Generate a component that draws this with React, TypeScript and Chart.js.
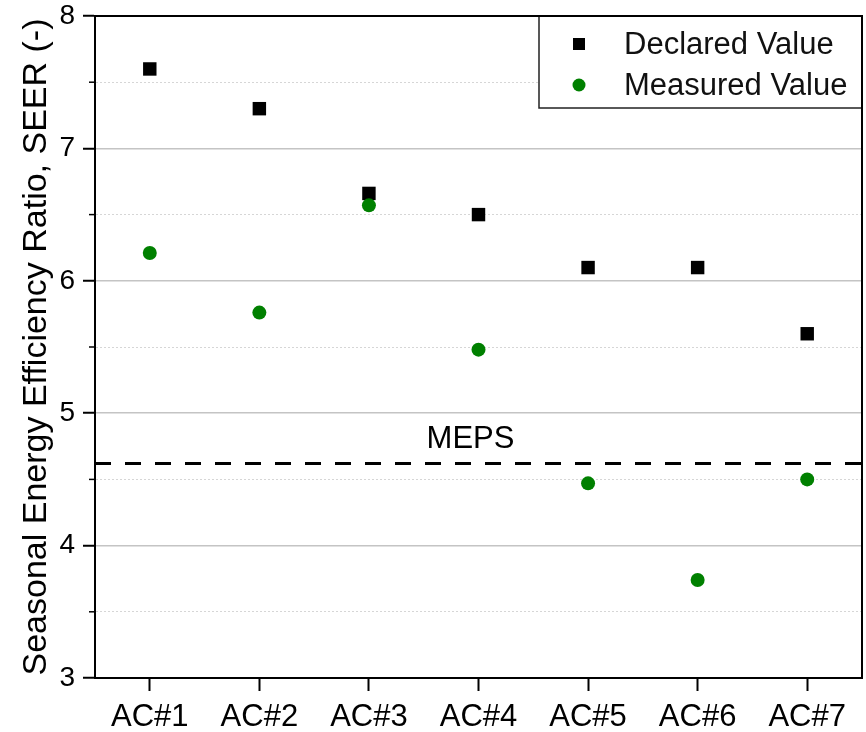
import React, { useEffect, useRef } from 'react';
import { Chart, registerables } from 'chart.js';

Chart.register(...registerables);

const categories = ['AC#1', 'AC#2', 'AC#3', 'AC#4', 'AC#5', 'AC#6', 'AC#7'];
const declaredValues = [7.6, 7.3, 6.66, 6.5, 6.1, 6.1, 5.6];
const measuredValues = [6.21, 5.76, 6.57, 5.48, 4.47, 3.74, 4.5];
const mepsValue = 4.62;
const seriesLabels = ['Declared Value', 'Measured Value'];
const mepsLabel = 'MEPS';
const yTitle = 'Seasonal Energy Efficiency Ratio, SEER (-)';
const yMin = 3;
const yMax = 8;
const yStep = 0.5;

const FONT = "'Liberation Sans', Arial, Helvetica, sans-serif";
const GREEN = '#008000';

const isMajor = (v: number) => Math.abs(v - Math.round(v)) < 1e-9;

const decorPlugin = {
  id: 'decor',
  afterDatasetsDraw(chart: any) {
    const { ctx, chartArea } = chart;
    const xs = chart.scales.x;
    const ys = chart.scales.y;
    ctx.save();
    ctx.strokeStyle = '#000';
    ctx.lineWidth = 1.5;
    ys.ticks.forEach((t: any) => {
      if (!isMajor(t.value)) {
        const py = ys.getPixelForValue(t.value);
        ctx.beginPath();
        ctx.moveTo(chartArea.left - 6, py);
        ctx.lineTo(chartArea.left, py);
        ctx.stroke();
      }
    });
    ctx.fillStyle = '#000';
    ctx.font = `31px ${FONT}`;
    ctx.textAlign = 'center';
    ctx.textBaseline = 'middle';
    ctx.fillText(mepsLabel, xs.getPixelForValue(4) - 8, ys.getPixelForValue(mepsValue) - 24);
    ctx.restore();
  },
  afterDraw(chart: any) {
    const { ctx, chartArea } = chart;
    const w = 323;
    const h = 92;
    const left = chartArea.right - w;
    const top = chartArea.top;
    ctx.save();
    ctx.fillStyle = '#fff';
    ctx.fillRect(left, top, w, h);
    ctx.strokeStyle = '#222';
    ctx.lineWidth = 1.5;
    ctx.strokeRect(left, top, w, h);
    ctx.strokeStyle = '#000';
    ctx.lineWidth = 2;
    ctx.beginPath();
    ctx.moveTo(chartArea.left, chartArea.top);
    ctx.lineTo(chartArea.right, chartArea.top);
    ctx.lineTo(chartArea.right, chartArea.bottom);
    ctx.stroke();
    const rows = [top + 28, top + 69];
    const mx = left + 40;
    ctx.fillStyle = '#000';
    ctx.fillRect(mx - 6, rows[0] - 6, 12, 12);
    ctx.fillStyle = GREEN;
    ctx.beginPath();
    ctx.arc(mx, rows[1], 6.5, 0, Math.PI * 2);
    ctx.fill();
    ctx.fillStyle = '#111';
    ctx.font = `31px ${FONT}`;
    ctx.textAlign = 'left';
    ctx.textBaseline = 'middle';
    ctx.fillText(seriesLabels[0], left + 85, rows[0] + 1);
    ctx.fillText(seriesLabels[1], left + 85, rows[1] + 1);
    ctx.restore();
  },
};

export default function App() {
  const canvasRef = useRef<HTMLCanvasElement | null>(null);

  useEffect(() => {
    if (!canvasRef.current) return;
    const chart = new Chart(canvasRef.current, {
      type: 'scatter',
      data: {
        datasets: [
          {
            label: seriesLabels[0],
            data: declaredValues.map((v, i) => ({ x: i + 1, y: v })),
            pointStyle: 'rect',
            pointRadius: 9.5,
            backgroundColor: '#000',
            borderColor: '#000',
            borderWidth: 0,
            order: 2,
          },
          {
            label: seriesLabels[1],
            data: measuredValues.map((v, i) => ({ x: i + 1, y: v })),
            pointStyle: 'circle',
            pointRadius: 7,
            backgroundColor: GREEN,
            borderColor: GREEN,
            borderWidth: 0,
            order: 1,
          },
          {
            label: mepsLabel,
            data: [
              { x: 0.5, y: mepsValue },
              { x: categories.length + 0.5, y: mepsValue },
            ],
            showLine: true,
            borderColor: '#000',
            borderWidth: 3,
            borderDash: [16, 14],
            pointRadius: 0,
            order: 3,
          },
        ],
      } as any,
      options: {
        animation: false,
        responsive: false,
        maintainAspectRatio: false,
        devicePixelRatio: 1,
        events: [],
        layout: { autoPadding: false, padding: { top: 16, right: 4, left: 0, bottom: 0 } },
        plugins: {
          legend: { display: false },
          tooltip: { enabled: false },
        },
        scales: {
          x: {
            type: 'linear',
            min: 0.5,
            max: categories.length + 0.5,
            afterBuildTicks: (s: any) => {
              s.ticks = categories.map((_, i) => ({ value: i + 1 }));
            },
            afterFit: (s: any) => {
              s.height = 54;
              s.paddingLeft = 0;
              s.paddingRight = 0;
            },
            ticks: {
              callback: (v: any) => categories[Math.round(Number(v)) - 1] ?? '',
              font: { family: FONT, size: 31 },
              color: '#000',
              padding: 8,
              autoSkip: false,
              maxRotation: 0,
            },
            grid: {
              drawOnChartArea: false,
              tickLength: 13,
              tickWidth: 2,
              tickColor: '#000',
            },
            border: { color: '#000', width: 2 },
          },
          y: {
            min: yMin,
            max: yMax,
            afterFit: (s: any) => {
              s.width = 95;
              s.paddingTop = 0;
              s.paddingBottom = 0;
              s.paddingLeft = 0;
              s.paddingRight = 0;
            },
            ticks: {
              stepSize: yStep,
              callback: (v: any) => (isMajor(Number(v)) ? String(v) : ''),
              font: { family: FONT, size: 28 },
              color: '#000',
              padding: 8,
              autoSkip: false,
            },
            grid: {
              color: (c: any) => (c.tick && isMajor(c.tick.value) ? '#c4c4c4' : '#d6d6d6'),
              lineWidth: (c: any) => (c.tick && isMajor(c.tick.value) ? 1.5 : 1),
              tickLength: 12,
              tickWidth: 2,
              tickColor: (c: any) => (c.tick && isMajor(c.tick.value) ? '#000' : 'rgba(0,0,0,0)'),
            },
            border: {
              color: '#000',
              width: 2,
              dash: (c: any) => (c.tick && !isMajor(c.tick.value) ? [2, 2] : []),
            },
            title: {
              display: true,
              text: yTitle,
              font: { family: FONT, size: 34 },
              color: '#000',
              padding: { top: 16, bottom: 0 },
            },
          },
        },
      } as any,
      plugins: [decorPlugin],
    });
    return () => chart.destroy();
  }, []);

  return (
    <div style={{ position: 'fixed', left: 0, top: 0, width: 866, height: 732, background: '#fff' }}>
      <canvas ref={canvasRef} width={866} height={732} style={{ display: 'block', width: 866, height: 732 }} />
    </div>
  );
}
